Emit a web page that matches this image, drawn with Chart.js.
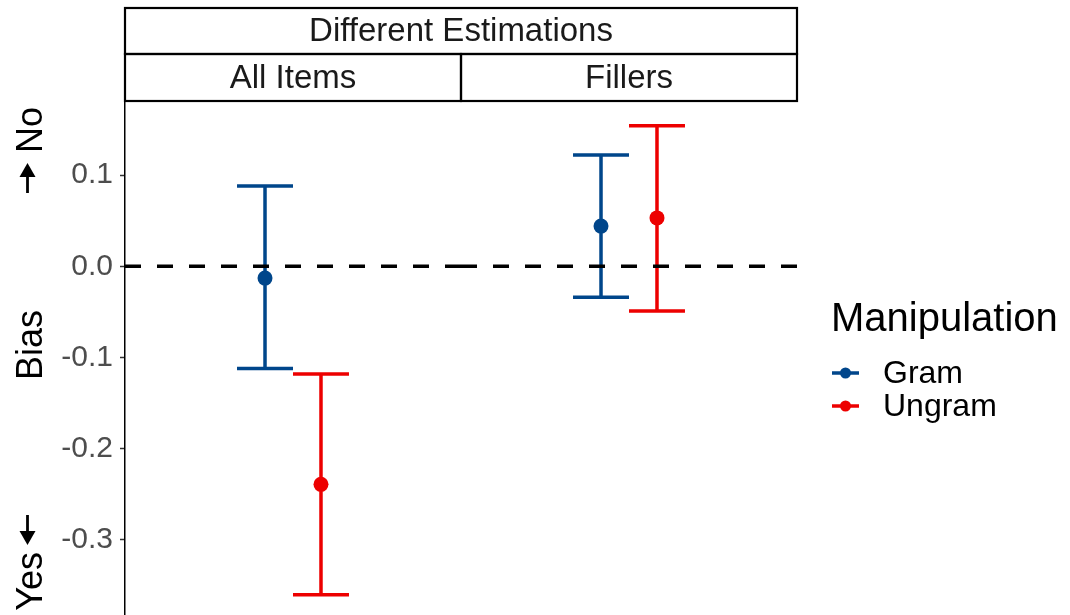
<!DOCTYPE html>
<html>
<head>
<meta charset="utf-8">
<script src="https://cdn.jsdelivr.net/npm/chart.js@4"></script>
<style>
  html, body { margin: 0; padding: 0; background: #fff; overflow: hidden; }
  canvas { display: block; }
</style>
</head>
<body>
<canvas id="myChart" width="1070" height="615"></canvas>
<script>
const panels = ['All Items', 'Fillers'];
const groups = ['Gram', 'Ungram'];

const gramMean = [-0.013, 0.044];
const gramLow = [-0.112, -0.034];
const gramHigh = [0.088, 0.122];

const ungramMean = [-0.239, 0.053];
const ungramLow = [-0.360, -0.049];
const ungramHigh = [-0.118, 0.154];

const yTicks = [-0.3, -0.2, -0.1, 0.0, 0.1];

const blue = '#00468B';
const red = '#ED0000';
const font = '"Liberation Sans", Arial, Helvetica, sans-serif';

const dodge = 0.0833;   // half of the dodge width, in panel units
const whisker = 0.0833; // half width of the error bar caps

const series = [
    { label: groups[0], color: blue, off: -dodge, mean: gramMean, low: gramLow, high: gramHigh },
    { label: groups[1], color: red, off: dodge, mean: ungramMean, low: ungramLow, high: ungramHigh }
];

// vertical arrow for the y title, from tail to tip
function arrow(ctx, x, y0, y1) {
    const dir = Math.sign(y1 - y0);
    ctx.beginPath();
    ctx.moveTo(x, y0);
    ctx.lineTo(x, y1 - dir * 12);
    ctx.stroke();
    ctx.beginPath();
    ctx.moveTo(x, y1);
    ctx.lineTo(x - 8, y1 - dir * 14);
    ctx.lineTo(x + 8, y1 - dir * 14);
    ctx.closePath();
    ctx.fill();
}

// error bars, zero line, facet strips, axis title and legend
const facetPlugin = {
    id: 'facets',
    beforeDatasetsDraw(chart) {
        const { ctx, scales: { x, y } } = chart;
        ctx.save();
        ctx.lineCap = 'butt';
        series.forEach(s => {
            ctx.strokeStyle = s.color;
            ctx.lineWidth = 3.5;
            panels.forEach((p, i) => {
                const cx = x.getPixelForValue(i + 0.5 + s.off);
                const x0 = x.getPixelForValue(i + 0.5 + s.off - whisker);
                const x1 = x.getPixelForValue(i + 0.5 + s.off + whisker);
                const top = y.getPixelForValue(s.high[i]);
                const bot = y.getPixelForValue(s.low[i]);
                ctx.beginPath();
                ctx.moveTo(cx, top); ctx.lineTo(cx, bot);
                ctx.moveTo(x0, top); ctx.lineTo(x1, top);
                ctx.moveTo(x0, bot); ctx.lineTo(x1, bot);
                ctx.stroke();
            });
        });

        // dashed line at zero, drawn per panel
        const zy = y.getPixelForValue(0);
        ctx.strokeStyle = '#000';
        ctx.lineWidth = 3.5;
        ctx.setLineDash([16, 16]);
        panels.forEach((p, i) => {
            ctx.beginPath();
            ctx.moveTo(x.getPixelForValue(i), zy);
            ctx.lineTo(x.getPixelForValue(i + 1), zy);
            ctx.stroke();
        });
        ctx.restore();
    },
    afterDraw(chart) {
        const { ctx, chartArea: a, scales: { x } } = chart;
        ctx.save();

        // strips
        const top = 8, mid = 54, bot = a.top;
        ctx.fillStyle = '#fff';
        ctx.fillRect(a.left, top, a.right - a.left, bot - top);
        ctx.strokeStyle = '#000';
        ctx.lineWidth = 2.2;
        ctx.strokeRect(a.left, top, a.right - a.left, mid - top);
        panels.forEach((p, i) => {
            const l = x.getPixelForValue(i), r = x.getPixelForValue(i + 1);
            ctx.strokeRect(l, mid, r - l, bot - mid);
        });
        ctx.fillStyle = '#1a1a1a';
        ctx.font = '33px ' + font;
        ctx.textAlign = 'center';
        ctx.textBaseline = 'middle';
        ctx.fillText('Different Estimations', (a.left + a.right) / 2, (top + mid) / 2 + 1);
        panels.forEach((p, i) => {
            ctx.fillText(p, x.getPixelForValue(i + 0.5), (mid + bot) / 2 + 1);
        });

        // y axis title: No at the top, Bias in the middle, Yes at the bottom
        ctx.fillStyle = '#000';
        ctx.strokeStyle = '#000';
        ctx.lineWidth = 2.8;
        ctx.font = '36px ' + font;
        ctx.textBaseline = 'alphabetic';
        const title = [['No', 107, 'right'], ['Bias', 345, 'center'], ['Yes', 552, 'right']];
        title.forEach(([t, ty, al]) => {
            ctx.save();
            ctx.translate(42, ty);
            ctx.rotate(-Math.PI / 2);
            ctx.textAlign = al;
            ctx.fillText(t, 0, 0);
            ctx.restore();
        });
        arrow(ctx, 27.5, 193, 163);
        arrow(ctx, 27.5, 515, 545);

        // legend
        ctx.textAlign = 'left';
        ctx.font = '40px ' + font;
        ctx.fillText('Manipulation', 831, 331);
        ctx.font = '32px ' + font;
        ctx.textBaseline = 'middle';
        series.forEach((s, i) => {
            const ly = 373 + i * 33;
            ctx.strokeStyle = s.color;
            ctx.fillStyle = s.color;
            ctx.lineWidth = 3.5;
            ctx.beginPath();
            ctx.moveTo(832, ly); ctx.lineTo(859, ly);
            ctx.stroke();
            ctx.beginPath();
            ctx.arc(845.5, ly, 5.5, 0, Math.PI * 2);
            ctx.fill();
            ctx.fillStyle = '#000';
            ctx.fillText(s.label, 883, ly + 1);
        });
        ctx.restore();
    }
};

const data = {
    datasets: series.map(s => ({
        label: s.label,
        data: panels.map((p, i) => ({ x: i + 0.5 + s.off, y: s.mean[i] })),
        backgroundColor: s.color,
        borderColor: s.color,
        pointRadius: 7.5,
        pointHoverRadius: 7.5,
        borderWidth: 0,
        showLine: false
    }))
};

const config = {
    type: 'scatter',
    data: data,
    options: {
        responsive: false,
        animation: false,
        layout: {
            autoPadding: false,
            padding: { top: 101, right: 273, bottom: 0, left: 0 }
        },
        plugins: {
            legend: { display: false },
            tooltip: { enabled: false }
        },
        scales: {
            x: {
                type: 'linear',
                min: 0,
                max: 2,
                display: false
            },
            y: {
                min: -0.3822,
                max: 0.1811,
                afterBuildTicks: scale => {
                    scale.ticks = yTicks.map(v => ({ value: v }));
                },
                afterFit: scale => {
                    scale.width = 125;
                    scale.paddingTop = 0;
                    scale.paddingBottom = 0;
                },
                ticks: {
                    callback: v => v.toFixed(1),
                    color: '#4D4D4D',
                    font: { family: font, size: 30 },
                    padding: 7
                },
                grid: {
                    drawOnChartArea: false,
                    tickLength: 5,
                    tickWidth: 1.5,
                    tickColor: '#333'
                },
                border: {
                    color: '#000',
                    width: 1.5
                }
            }
        }
    },
    plugins: [facetPlugin]
};

new Chart(document.getElementById('myChart'), config);
</script>
</body>
</html>
